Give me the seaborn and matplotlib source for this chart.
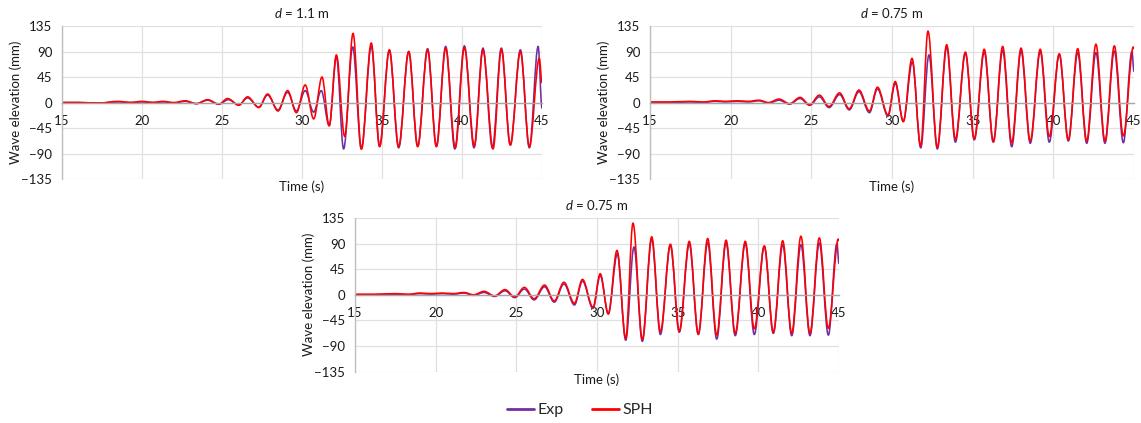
import matplotlib
matplotlib.use("Agg")
import matplotlib.pyplot as plt
from matplotlib.lines import Line2D
from matplotlib.path import Path
from matplotlib.patches import PathPatch
import pandas as pd
import seaborn as sns

# ---- wave elevation records: crest / trough times (s) and elevations (mm) ----
# d = 1.1 m
t_11_sph = [15.0, 16.0, 17.3, 18.5, 19.3, 20.0, 20.7, 21.3, 22.0, 22.7,
            23.4, 24.1, 24.8, 25.35, 26.05, 26.6, 27.3, 27.85, 28.5, 29.1,
            29.65, 30.2, 30.73, 31.25, 31.7, 32.15, 32.67, 33.19, 33.71, 34.33,
            34.85, 35.46, 36.04, 36.67, 37.23, 37.85, 38.4, 38.98, 39.58, 40.15,
            40.77, 41.31, 41.94, 42.46, 43.02, 43.65, 44.21, 44.83, 45.0]
eta_11_sph = [0, 0, -1, 2, 0, 2, 0, 2, 0, 3,
              -2, 5, -3, 7, -5, 10, -9, 15, -15, 21,
              -18, 31, -29, 45, -41, 84, -60, 122, -82, 105,
              -78, 93, -78, 90, -78, 93, -78, 96, -80, 97,
              -77, 93, -82, 94, -75, 90, -78, 78, 35]
t_11_exp = [15.0, 16.0, 17.3, 18.5, 19.3, 20.0, 20.7, 21.3, 22.0, 22.7,
            23.4, 24.1, 24.8, 25.4, 26.05, 26.6, 27.3, 27.85, 28.5, 29.1,
            29.65, 30.2, 30.73, 31.2, 31.7, 32.15, 32.6, 33.17, 33.71, 34.33,
            34.85, 35.46, 36.04, 36.67, 37.23, 37.85, 38.4, 38.98, 39.55, 40.15,
            40.75, 41.31, 41.9, 42.46, 43.02, 43.65, 44.21, 44.76, 45.0]
eta_11_exp = [0, 0, -1, 1, 0, 1, 0, 1, -1, 2,
              -2, 4, -3, 5, -4, 8, -8, 13, -13, 18,
              -15, 21, -17, 21, -41, 81, -82, 98, -82, 99,
              -77, 92, -80, 90, -77, 95, -77, 99, -82, 100,
              -80, 96, -80, 96, -75, 93, -80, 99, -10]

# d = 0.75 m
t_075_sph = [15.0, 16.2, 17.5, 18.3, 19.05, 19.7, 20.4, 21.1, 21.75, 22.35,
             23.0, 23.65, 24.3, 24.9, 25.5, 26.1, 26.75, 27.35, 27.95, 28.6,
             29.1, 29.75, 30.2, 30.7, 31.24, 31.78, 32.23, 32.81, 33.39, 33.93,
             34.55, 35.1, 35.72, 36.28, 36.86, 37.42, 38.0, 38.57, 39.19, 39.75,
             40.37, 40.93, 41.51, 42.07, 42.64, 43.2, 43.78, 44.34, 44.96, 45.0]
eta_075_sph = [1, 1, 2, 1, 3, 2, 3, 2, 4, 0,
               6, -2, 9, -4, 13, -7, 17, -11, 22, -15,
               27, -22, 37, -34, 78, -77, 126, -79, 102, -65,
               89, -64, 94, -69, 99, -71, 96, -68, 94, -60,
               86, -66, 95, -68, 103, -68, 100, -59, 98, 95]
t_075_exp = [15.0, 16.2, 17.5, 18.3, 19.05, 19.7, 20.4, 21.1, 21.75, 22.35,
             23.0, 23.65, 24.3, 24.9, 25.5, 26.1, 26.75, 27.35, 27.95, 28.6,
             29.1, 29.75, 30.2, 30.7, 31.26, 31.78, 32.29, 32.81, 33.39, 33.93,
             34.55, 35.1, 35.72, 36.28, 36.86, 37.42, 38.0, 38.57, 39.19, 39.75,
             40.37, 40.93, 41.51, 42.07, 42.64, 43.2, 43.78, 44.34, 44.87, 45.0]
eta_075_exp = [0, 0, 1, 0, 2, 1, 2, 1, 3, -1,
               4, -3, 7, -5, 10, -9, 14, -13, 19, -18,
               24, -24, 34, -33, 72, -80, 84, -82, 98, -70,
               87, -66, 89, -70, 92, -78, 91, -72, 90, -70,
               85, -68, 88, -72, 88, -72, 91, -71, 90, 55]

series_names = ["Exp", "SPH"]
x_ticks = [15, 20, 25, 30, 35, 40, 45]
y_ticks = [-135, -90, -45, 0, 45, 90, 135]

PURPLE = "#7030A0"
RED = "#FF0000"
LINE_W = 1.15

sns.set_style("white")
plt.rcParams["font.family"] = ["Lato", "DejaVu Sans"]
plt.rcParams["mathtext.fontset"] = "custom"
plt.rcParams["mathtext.rm"] = "Lato"
plt.rcParams["mathtext.it"] = "Lato:italic"

W, H = 1141, 423
fig = plt.figure(figsize=(W / 100, H / 100), dpi=100)


def smooth_lines(ax):
    """Redraw each polyline as a smooth curve with flat tangents at every
    crest and trough (cubic Bezier segments between successive extrema)."""
    for line in list(ax.get_lines()):
        x, y = line.get_data()
        verts = [(x[0], y[0])]
        codes = [Path.MOVETO]
        for i in range(len(x) - 1):
            dx = x[i + 1] - x[i]
            verts += [(x[i] + 0.35 * dx, y[i]),
                      (x[i + 1] - 0.35 * dx, y[i + 1]),
                      (x[i + 1], y[i + 1])]
            codes += [Path.CURVE4] * 3
        ax.add_patch(PathPatch(Path(verts, codes), fill=False,
                               ec=line.get_color(), lw=line.get_linewidth(),
                               zorder=line.get_zorder(), joinstyle="round",
                               capstyle="round"))
        line.remove()


def panel(rect, title, t_exp, e_exp, t_sph, e_sph):
    ax = fig.add_axes(rect)
    df = pd.concat([
        pd.DataFrame({"time": t_exp, "eta": e_exp, "series": series_names[0]}),
        pd.DataFrame({"time": t_sph, "eta": e_sph, "series": series_names[1]}),
    ], ignore_index=True)
    sns.lineplot(data=df, x="time", y="eta", hue="series",
                 palette={"Exp": PURPLE, "SPH": RED}, estimator=None,
                 sort=False, lw=LINE_W, legend=False, ax=ax)
    smooth_lines(ax)
    ax.set_xlim(15, 45)
    ax.set_ylim(-135, 135)
    ax.set_xticks(x_ticks)
    ax.set_yticks(y_ticks)
    ax.grid(True, color="#E0E0E0", lw=0.9)
    ax.set_axisbelow(True)
    for s in ("top", "right"):
        ax.spines[s].set_visible(False)
    ax.spines["left"].set_color("#BFBFBF")
    ax.spines["left"].set_linewidth(1.0)
    ax.spines["bottom"].set_position(("data", 0))
    ax.spines["bottom"].set_color("#A6A6A6")
    ax.spines["bottom"].set_linewidth(1.0)
    ax.tick_params(axis="x", length=0, pad=9, labelsize=9.5, colors="#1a1a1a")
    ax.tick_params(axis="y", length=0, pad=7, labelsize=9.5, colors="#1a1a1a")
    ax.set_xlabel("Time (s)", fontsize=9.5, color="#1a1a1a")
    ax.xaxis.set_label_coords(0.5, -0.01)
    ax.set_ylabel("Wave elevation (mm)", fontsize=9.5, color="#1a1a1a")
    ax.yaxis.set_label_coords(-0.083, 0.5)
    ax.set_title(title, fontsize=9.5, pad=6, color="#1a1a1a")
    return ax


panel([62 / W, 1 - 179 / H, 480 / W, 153 / H], r"$d$ = 1.1 m",
      t_11_exp, eta_11_exp, t_11_sph, eta_11_sph)
panel([650 / W, 1 - 179 / H, 484 / W, 153 / H], r"$d$ = 0.75 m",
      t_075_exp, eta_075_exp, t_075_sph, eta_075_sph)
panel([355 / W, 1 - 371.5 / H, 484 / W, 153.5 / H], r"$d$ = 0.75 m",
      t_075_exp, eta_075_exp, t_075_sph, eta_075_sph)

handles = [Line2D([0], [0], color=PURPLE, lw=2), Line2D([0], [0], color=RED, lw=2)]
fig.legend(handles, series_names, loc="center", bbox_to_anchor=(580 / W, 13 / H),
           ncol=2, frameon=False, fontsize=11.5, handlelength=1.7,
           handletextpad=0.2, columnspacing=1.8)

fig.savefig("out.png", dpi=100)
